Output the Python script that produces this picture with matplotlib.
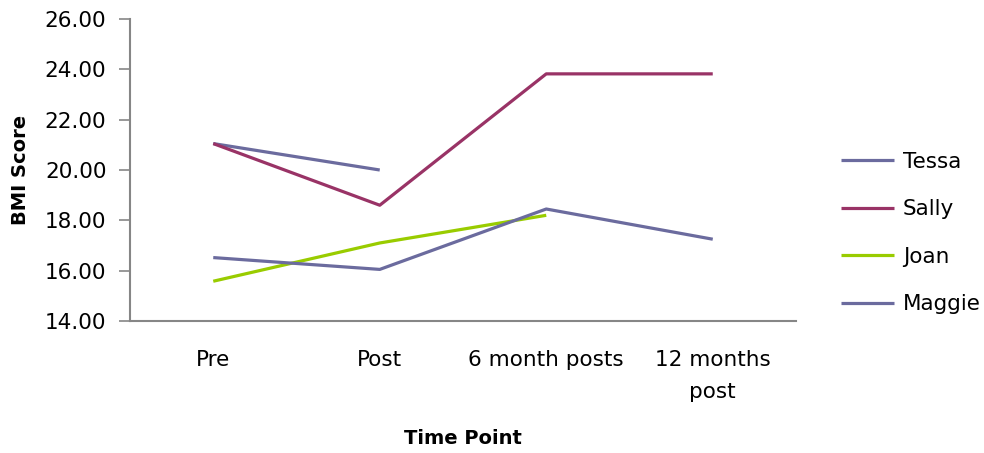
import matplotlib
matplotlib.use("Agg")
import matplotlib.pyplot as plt
import numpy as np

categories = ["Pre", "Post", "6 month posts", "12 months\npost"]
tessa = [21.05, 20.0, np.nan, np.nan]
sally = [21.05, 18.6, 23.82, 23.82]
joan = [15.58, 17.1, 18.2, np.nan]
maggie = [16.52, 16.05, 18.45, 17.25]
series = [("Tessa", tessa, "#6B6B9E"), ("Sally", sally, "#993366"),
          ("Joan", joan, "#99CC00"), ("Maggie", maggie, "#6B6B9E")]
yticks = [14, 16, 18, 20, 22, 24, 26]

plt.rcParams['font.family'] = ['DejaVu Sans']
FS = 15.5
fig = plt.figure(figsize=(9.84, 4.53), dpi=100)
ax = fig.add_axes([130/984, 1-321/453, (796-130)/984, (321-19)/453])
x = np.arange(len(categories))
for name, vals, c in series:
    ax.plot(x, vals, color=c, lw=2.3, label=name, solid_capstyle='butt')
ax.set_xlim(-0.5, len(categories)-0.5)
ax.set_ylim(14, 26)
ax.set_yticks(yticks)
ax.set_yticklabels([f"{v:.2f}" for v in yticks], fontsize=FS)
ax.set_xticks(x)
ax.set_xticklabels(categories, fontsize=FS, linespacing=1.75)
ax.tick_params(axis='x', length=0, pad=21)
ax.tick_params(axis='y', length=8, width=1.2, color='#868686', pad=9)
for s in ['top', 'right']:
    ax.spines[s].set_visible(False)
for s in ['left', 'bottom']:
    ax.spines[s].set_color('#868686')
    ax.spines[s].set_linewidth(1.5)
ax.set_xlabel("Time Point", fontsize=14, fontweight='bold', va='center')
ax.set_ylabel("BMI Score", fontsize=14, fontweight='bold', va='center')
ax.yaxis.set_label_coords(-(130-21)/666, 0.5)
ax.xaxis.set_label_coords(0.5, -(438-321)/302)
leg = ax.legend(loc='center left', bbox_to_anchor=(822/984, 1-233/453),
                bbox_transform=fig.transFigure, frameon=False, fontsize=FS,
                handlelength=2.45, handletextpad=0.4, labelspacing=1.28)
fig.savefig("out.png", dpi=100)
